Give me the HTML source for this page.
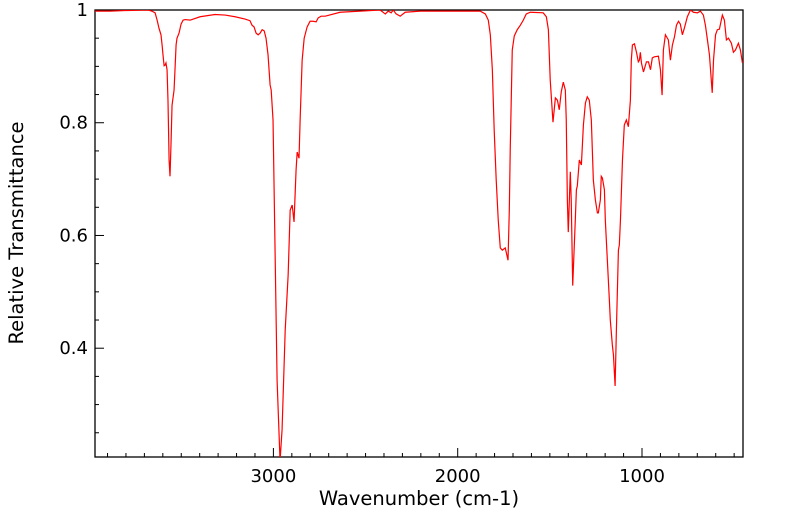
<!DOCTYPE html>
<html><head><meta charset="utf-8"><style>
html,body{margin:0;padding:0;background:#fff;}
svg{display:block;font-family:"DejaVu Sans","Liberation Sans",sans-serif;}
</style></head><body>
<svg id="chart" width="799" height="516" viewBox="0 0 799 516">
<defs><clipPath id="plotclip"><rect x="95" y="10" width="648" height="447"/></clipPath></defs>
<g id="axes"></g>
<path id="spectrum" fill="none" stroke="#ff0000" stroke-width="1.2" clip-path="url(#plotclip)"/>
<text x="419" y="505" text-anchor="middle" font-size="19.5">Wavenumber (cm-1)</text>
<text transform="translate(23,233) rotate(-90)" text-anchor="middle" font-size="19.5">Relative Transmittance</text>
</svg>
<script>
const wavenumbers = [3968,3887,3805,3680,3659,3642,3631,3621,3610,3604,3599,3593,3588,3583,3577,3572,3569,3566,3561,3555,3550,3539,3534,3528,3523,3512,3501,3490,3479,3452,3398,3317,3262,3208,3154,3127,3116,3105,3094,3083,3072,3061,3050,3040,3029,3018,3012,3002,2991,2980,2964,2953,2936,2920,2909,2898,2888,2877,2871,2861,2855,2844,2833,2817,2801,2784,2768,2757,2741,2719,2638,2529,2421,2393,2377,2361,2350,2334,2312,2285,2203,1986,1878,1850,1834,1823,1812,1802,1791,1780,1769,1758,1742,1727,1720,1715,1704,1693,1677,1660,1644,1628,1606,1536,1519,1508,1498,1483,1470,1459,1449,1438,1427,1416,1411,1405,1400,1389,1384,1376,1362,1356,1351,1340,1329,1318,1307,1297,1286,1275,1264,1253,1242,1237,1226,1221,1215,1204,1199,1188,1177,1172,1161,1155,1146,1139,1128,1123,1117,1106,1096,1085,1074,1063,1058,1052,1041,1030,1020,1014,1009,1003,992,976,965,954,944,933,911,900,891,884,873,857,846,835,824,813,802,792,781,770,754,737,721,699,683,667,656,645,634,619,612,601,591,580,564,553,542,531,515,504,493,477,466,455];
const transmittance = [0.998,0.998,0.999,1.000,0.998,0.995,0.982,0.968,0.956,0.938,0.920,0.901,0.902,0.906,0.894,0.840,0.787,0.734,0.705,0.769,0.831,0.858,0.894,0.938,0.950,0.959,0.975,0.982,0.983,0.982,0.988,0.992,0.991,0.988,0.984,0.981,0.973,0.970,0.959,0.956,0.959,0.965,0.963,0.950,0.920,0.867,0.858,0.805,0.574,0.343,0.200,0.255,0.432,0.530,0.645,0.654,0.624,0.716,0.748,0.737,0.805,0.911,0.950,0.970,0.980,0.980,0.979,0.986,0.989,0.989,0.996,0.998,1.000,0.993,0.998,0.995,1.000,0.993,0.989,0.996,0.998,0.998,0.998,0.993,0.982,0.956,0.894,0.787,0.698,0.627,0.578,0.574,0.578,0.556,0.645,0.752,0.929,0.954,0.965,0.973,0.982,0.993,0.996,0.995,0.988,0.965,0.876,0.801,0.844,0.840,0.823,0.855,0.872,0.858,0.805,0.663,0.606,0.713,0.663,0.511,0.627,0.681,0.688,0.734,0.725,0.796,0.835,0.846,0.840,0.805,0.698,0.663,0.640,0.640,0.663,0.705,0.702,0.681,0.627,0.556,0.485,0.450,0.406,0.388,0.333,0.432,0.574,0.583,0.627,0.734,0.796,0.805,0.793,0.840,0.911,0.938,0.940,0.925,0.908,0.911,0.925,0.906,0.890,0.908,0.908,0.894,0.915,0.917,0.918,0.894,0.849,0.929,0.956,0.947,0.911,0.938,0.952,0.973,0.980,0.975,0.956,0.968,0.988,1.000,0.996,0.995,0.998,0.991,0.973,0.947,0.920,0.853,0.911,0.956,0.965,0.966,0.991,0.982,0.947,0.950,0.941,0.925,0.929,0.941,0.929,0.906];
const xMajorTicks = [3000,2000,1000];
const yMajorTicks = [1,0.8,0.6,0.4];
const yTickLabels = ["1","0.8","0.6","0.4"];

const L=95,R=743,T=10,B=457;
const wLeft=3968, wRight=452, tTop=1.0, tBot=0.207;
function xs(w){return L+(wLeft-w)/(wLeft-wRight)*(R-L);}
function ys(t){return T+(tTop-t)/(tTop-tBot)*(B-T);}
const NS="http://www.w3.org/2000/svg";
const ax=document.getElementById('axes');
function line(x1,y1,x2,y2,name,w){
  const l=document.createElementNS(NS,'line');
  l.setAttribute('x1',x1);l.setAttribute('y1',y1);l.setAttribute('x2',x2);l.setAttribute('y2',y2);
  l.setAttribute('stroke','#000');l.setAttribute('stroke-width',w||1);
  
  
  ax.appendChild(l);return l;
}
const frame=document.createElementNS(NS,'rect');
frame.setAttribute('x',L);frame.setAttribute('y',T);frame.setAttribute('width',R-L);frame.setAttribute('height',B-T);
frame.setAttribute('fill','none');frame.setAttribute('stroke','#000');frame.setAttribute('stroke-width','1.3');


ax.appendChild(frame);
for(let w=500; w<=3900; w+=100){
  const x=xs(w); if(x<L||x>R) continue;
  const major = xMajorTicks.indexOf(w)>=0;
  line(x,B,x,B-(major?9:4), major?'x-major-tick':'x-minor-tick');
}
xMajorTicks.forEach(w=>{
  const t=document.createElementNS(NS,'text');
  t.setAttribute('x',xs(w));t.setAttribute('y',B+25);t.setAttribute('text-anchor','middle');t.setAttribute('font-size','18');
  t.textContent=String(w);
  
  
  ax.appendChild(t);
});
for(let k=0;k<=20;k++){
  const v=1-k*0.05; if(v<tBot) break;
  const y=ys(v);
  const major = (k%4===0);
  line(L,y,L+(major?9:4),y, major?'y-major-tick':'y-minor-tick');
}
yMajorTicks.forEach((v,i)=>{
  const t=document.createElementNS(NS,'text');
  t.setAttribute('x',88);t.setAttribute('y',ys(v)+6);t.setAttribute('text-anchor','end');t.setAttribute('font-size','18');
  t.textContent=yTickLabels[i];
  
  
  ax.appendChild(t);
});
let d='';
wavenumbers.forEach((w,i)=>{d+=(i?'L':'M')+xs(w).toFixed(2)+','+ys(transmittance[i]).toFixed(2);});
document.getElementById('spectrum').setAttribute('d',d);
</script>
</body></html>
